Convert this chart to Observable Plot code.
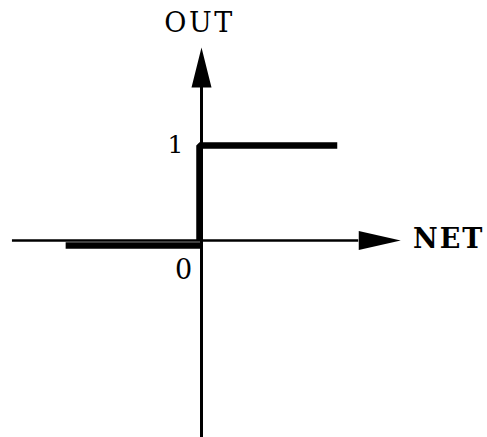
<!DOCTYPE html>
<html><head><meta charset="utf-8">
<script src="https://cdn.jsdelivr.net/npm/d3@7"></script>
<script src="https://cdn.jsdelivr.net/npm/@observablehq/plot@0.6"></script>
<style>body{margin:0;background:#fff}</style>
</head><body><div id="chart"></div>
<script>
// Step (threshold) activation function
const net = [-1.43, 0, 0, 1.45];
const out = [0, 0, 1, 1];
const tickValues = [0, 1];
const tickLabels = ["0", "1"];
const xTitle = "NET";
const yTitle = "OUT";
// axis shafts in data units (NET, OUT)
const xAxisExtent = [-1.99, 1.655];
const yAxisExtent = [-2.1, 1.61];

const W = 487, H = 437;
const unit = 95;           // px per data unit
const x0px = 201, y0px = 240;
const serif = "DejaVu Serif, serif";

const lower = net.map((n, i) => ({n, o: out[i]})).slice(0, 2);
const upper = net.map((n, i) => ({n, o: out[i]})).slice(1);
const ticks = tickValues.map((v, i) => ({v, label: tickLabels[i]}));

const arrowHead = {
  draw(context, l, r) {
    context.moveTo(-r, 0);
    context.lineTo(0, -l);
    context.lineTo(r, 0);
    context.closePath();
  }
};

const chart = Plot.plot({
  width: W, height: H,
  margin: 0,
  style: {background: "#fff", color: "#000"},
  x: {domain: [-x0px / unit, (W - x0px) / unit], axis: null},
  y: {domain: [-(H - y0px) / unit, y0px / unit], axis: null},
  marks: [
    // axes shafts
    Plot.ruleY([0], {x1: xAxisExtent[0], x2: xAxisExtent[1], stroke: "#000", strokeWidth: 2.5}),
    Plot.ruleX([0], {y1: yAxisExtent[0], y2: yAxisExtent[1], stroke: "#000", strokeWidth: 3}),
    // arrowheads
    Plot.vector([{x: xAxisExtent[1], y: 0}], {x: "x", y: "y", rotate: 90, length: 42, r: 9.5, anchor: "start", shape: arrowHead, fill: "#000", stroke: "none"}),
    Plot.vector([{x: 0, y: yAxisExtent[1]}], {x: "x", y: "y", rotate: 0, length: 40, r: 10, anchor: "start", shape: arrowHead, fill: "#000", stroke: "none"}),
    // step function
    Plot.line(lower, {x: "n", y: "o", stroke: "#000", strokeWidth: 6.5, strokeLinecap: "butt", dy: 5}),
    Plot.line(upper, {x: "n", y: "o", stroke: "#000", strokeWidth: 6.5, strokeLinecap: "butt", strokeLinejoin: "miter", dx: -2}),
    // tick labels
    Plot.text(ticks.filter(d => d.v === 1), {x: 0, y: "v", text: "label", dx: -26, dy: -1, fontFamily: serif, fontSize: 25, fill: "#000"}),
    Plot.text(ticks.filter(d => d.v === 0), {x: 0, y: "v", text: "label", dx: -18, dy: 30, fontFamily: serif, fontSize: 27, fill: "#000"}),
    // axis titles
    Plot.text([yTitle], {x: 0, frameAnchor: "top", text: d => d, dx: -2, dy: 12, lineAnchor: "top", fontFamily: serif, fontSize: 27, fill: "#000"}),
    Plot.text([xTitle], {x: xAxisExtent[1], y: 0, text: d => d, dx: 90, dy: -1, fontFamily: serif, fontSize: 27, fontWeight: "bold", fill: "#000"})
  ]
});
document.getElementById("chart").appendChild(chart);
d3.select(chart).selectAll("text")
  .filter(function () { return this.textContent === yTitle; })
  .style("letter-spacing", "2.5px");
d3.select(chart).selectAll("text")
  .filter(function () { return this.textContent === xTitle; })
  .style("letter-spacing", "2px");
</script>
</body></html>
